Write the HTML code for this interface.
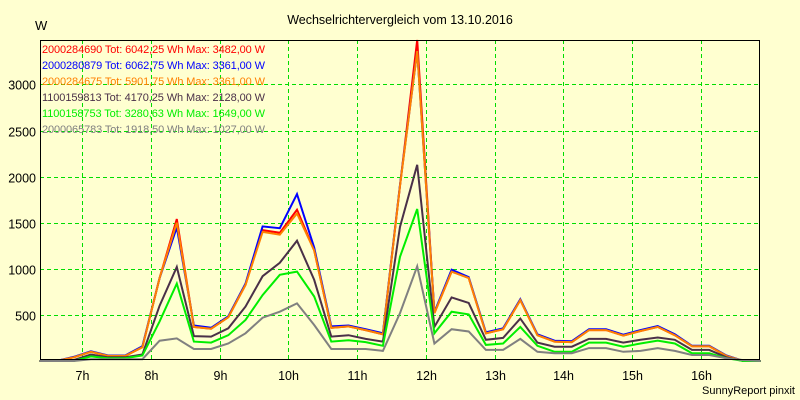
<!DOCTYPE html>
<html><head><meta charset="utf-8"><style>
html,body{margin:0;padding:0;background:#ffffd0;}
svg{display:block;font-family:"Liberation Sans",sans-serif;}
</style></head><body>
<svg id="chart" width="800" height="400" viewBox="0 0 800 400" xmlns="http://www.w3.org/2000/svg">
<rect x="0" y="0" width="800" height="400" fill="#ffffd0"/>
<text x="400" y="24" text-anchor="middle" font-size="12.5" fill="#000">Wechselrichtervergleich vom 13.10.2016</text>
<text x="35" y="30" font-size="13" fill="#000">W</text>
<g id="grid"></g>
<g id="series"></g>
<rect x="40.5" y="40.5" width="719" height="319" fill="none" stroke="#000" stroke-width="1"/>
<g id="yticks"></g>
<g id="xticks"></g>
<g id="legend"></g>
<text x="795" y="394" text-anchor="end" font-size="11" fill="#000">SunnyReport pinxit</text>
</svg>
<script>
// times in hours (point centres, 15-min intervals)
const times = [6.375,6.625,6.875,7.125,7.375,7.625,7.875,8.125,8.375,8.625,8.875,9.125,9.375,9.625,9.875,10.125,10.375,10.625,10.875,11.125,11.375,11.625,11.875,12.125,12.375,12.625,12.875,13.125,13.375,13.625,13.875,14.125,14.375,14.625,14.875,15.125,15.375,15.625,15.875,16.125,16.375,16.625,16.875];
const seriesNames = ["2000284690 Tot: 6042,25 Wh Max: 3482,00 W","2000280879 Tot: 6062,75 Wh Max: 3361,00 W","2000284675 Tot: 5901,75 Wh Max: 3361,00 W","1100159813 Tot: 4170,25 Wh Max: 2128,00 W","1100158753 Tot: 3280,63 Wh Max: 1649,00 W","2000065783 Tot: 1918,50 Wh Max: 1027,00 W"];
const seriesColors = ["#ff0000","#0000ff","#ff8000","#4a3048","#00ee00","#808080"];
const redVals =    [0,0,40,100,55,55,150,900,1540,370,350,475,825,1420,1390,1640,1200,360,375,335,290,1900,3482,520,970,900,300,345,660,280,210,205,335,335,275,325,370,280,160,160,55,0,0];
const blueVals =   [0,0,45,105,60,60,160,900,1450,385,360,485,840,1460,1440,1810,1230,375,385,345,300,1910,3361,530,990,910,310,355,670,290,220,215,345,345,285,335,380,290,165,165,60,0,0];
const orangeVals = [0,0,40,100,55,55,150,900,1500,370,350,475,825,1400,1370,1600,1200,360,375,335,290,1900,3361,520,970,900,300,345,660,280,210,205,335,335,275,325,370,280,160,160,55,0,0];
const purpleVals = [0,0,10,70,40,40,70,600,1020,270,265,355,590,920,1065,1305,880,265,280,240,210,1455,2128,370,690,630,230,250,460,200,155,155,240,240,200,230,255,230,120,120,40,0,0];
const greenVals =  [0,0,0,50,30,30,60,430,840,210,200,280,445,715,935,970,700,210,225,205,165,1130,1649,300,535,505,175,190,370,165,100,100,200,200,155,190,220,190,85,85,30,0,0];
const greyVals =   [0,0,0,20,20,20,20,220,245,130,130,190,300,470,535,625,390,130,130,130,110,520,1027,190,345,320,120,120,240,100,85,85,140,140,100,110,140,110,65,65,30,10,0];
const yTicks = [500,1000,1500,2000,2500,3000];
const xTicks = [7,8,9,10,11,12,13,14,15,16];
const allVals = [redVals,blueVals,orangeVals,purpleVals,greenVals,greyVals];

const NS="http://www.w3.org/2000/svg";
const plot={l:40,r:760,t:40,b:360};
function xScale(h){return 151+(h-8)*68.7;}
function yScale(v){return 361-v*0.0922;}
function mk(tag,attrs,parent){const e=document.createElementNS(NS,tag);for(const k in attrs)e.setAttribute(k,attrs[k]);parent.appendChild(e);return e;}

const grid=document.getElementById('grid');
yTicks.forEach(v=>{
  const y=Math.round(yScale(v))+0.5;
  const ln=mk('line',{x1:plot.l,x2:plot.r,y1:y,y2:y,stroke:'#00dd00','stroke-dasharray':'4,3'},grid);
  
  
  const t=mk('text',{x:36,y:y+5,'text-anchor':'end','font-size':'12.5',fill:'#000'},document.getElementById('yticks'));
  
  
  t.textContent=v;
});
xTicks.forEach(h=>{
  const x=Math.round(xScale(h))+0.5;
  const ln=mk('line',{x1:x,x2:x,y1:plot.t,y2:plot.b,stroke:'#00dd00','stroke-dasharray':'4,3'},grid);
  
  
  const t=mk('text',{x:x,y:380,'text-anchor':'middle','font-size':'12.5',fill:'#000'},document.getElementById('xticks'));
  
  
  t.textContent=h+'h';
});

const sg=document.getElementById('series');
allVals.forEach((vals,i)=>{
  const pts=vals.map((v,j)=>xScale(times[j]).toFixed(1)+','+yScale(v).toFixed(1)).join(' ');
  const pl=mk('polyline',{points:pts,fill:'none',stroke:seriesColors[i],'stroke-width':'2','stroke-linejoin':'miter'},sg);
  
  
});

const lg=document.getElementById('legend');
seriesNames.forEach((n,i)=>{
  const t=mk('text',{x:42,y:53+i*16,'font-size':'11','textLength':'223',fill:seriesColors[i]},lg);
  
  
  t.textContent=n;
});
</script>
</body></html>
